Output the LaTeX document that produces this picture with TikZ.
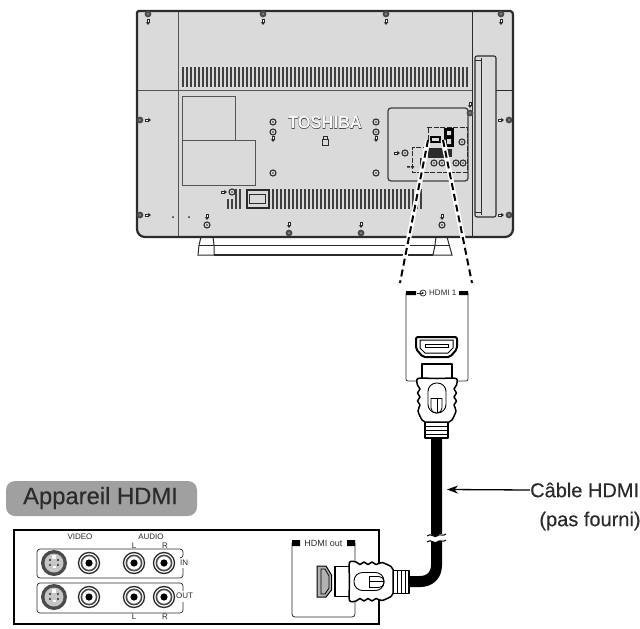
\documentclass[tikz,border=0pt]{standalone}
\usepackage{fontspec}
\setmainfont{Liberation Sans}
\newfontfamily\logofontout[FakeBold=3.2]{Liberation Sans Bold}
\newfontfamily\logofont{Liberation Sans Bold}
\newfontfamily\bigfont[FakeBold=0.25]{Liberation Sans}
\usetikzlibrary{arrows.meta}
\definecolor{tvgray}{HTML}{DADADA}
\definecolor{ink}{HTML}{2B2B2B}
\definecolor{labelgray}{HTML}{A0A0A0}
\tikzset{
  thinline/.style={draw=ink,line width=0.7pt},
  tvline/.style={draw=ink!80,line width=0.9pt},
  small/.style={font=\fontsize{8}{9}\selectfont,text=ink,inner sep=0pt},
  big/.style={font=\bigfont\fontsize{20}{24}\selectfont,text=ink,inner sep=0pt,align=center},
  plugline/.style={draw=black,line width=1.3pt,fill=white,line join=round},
}
\newcommand{\tvmark}[3]{% small arrow-like mark
  \begin{scope}[shift={(#1,#2)},rotate=#3]
    \draw[ink,line width=0.7pt,fill=white] (-1,-2.2) rectangle (1,0.6);
    \fill[ink] (-2.3,0.3) -- (2.3,0.3) -- (0,2.8) -- cycle;
  \end{scope}}
\newcommand{\tvscrew}[2]{%
  \fill[ink!85] (#1,#2) circle (3.4);
  \fill[gray] (#1,#2) circle (1.3);}
\newcommand{\tvring}[2]{%
  \draw[ink,line width=1.1pt,fill=tvgray] (#1,#2) circle (3);
  \fill[ink] (#1,#2) circle (0.9);}
\newcommand{\rcajack}[2]{%
  \draw[ink,line width=1.3pt,fill=white] (#1,#2) circle (10.5);
  \draw[ink!85,line width=1.6pt] (#1,#2) circle (7.6);
  \fill[black] (#1,#2) circle (3.6);}
\newcommand{\svideo}[2]{%
  \fill[ink!85] (#1,#2) circle (13);
  \fill[gray!45] (#1,#2) circle (9.5);
  \fill[ink] (#1,#2) ++(-4,-3) circle (1.2) ++(8,0) circle (1.2) ++(-8,5) circle (1.2) ++(8,0) circle (1.2);
  \fill[white] (#1,#2) ++(-2,-8) rectangle ++(4,4);
  \fill[white] (#1,#2) ++(-1.5,3) rectangle ++(3,2);}
\newcommand{\hdmiplug}{%
  % neck
  \draw[plugline,line width=1.6pt] (-15,0) rectangle (15,16);
  % strain relief
  \draw[plugline] (-12,58) rectangle (11,74);
  \foreach \yy in {62,66,70}{\draw[black,line width=0.8pt] (-12,\yy) -- (11,\yy);}
  % body
  \draw[plugline,line width=1.5pt] plot[smooth cycle,tension=0.45] coordinates {
    (-19,14.5) (0,14.5) (19,14.5) (19.5,21) (17,25) (19.5,29) (17,33) (19.5,37) (17,41) (19,47) (15,56) (12,58)
    (0,58) (-12,58) (-15,56) (-19,47) (-17,41) (-19.5,37) (-17,33) (-19.5,29) (-17,25) (-19.5,21)};
  % grip
  \draw[black,line width=0.9pt,fill=white,rounded corners=8.5pt] (-9,19) rectangle (9,49);
  \draw[black,line width=0.8pt,rounded corners=5pt] (-6,34) -- (-6,49) -- (5,49) -- (5,34);
  \draw[black,line width=0.8pt] (-6,34) -- (5,34);
  \draw[black,line width=0.8pt] (0,34) -- (0,49);
}
\begin{document}
\begin{tikzpicture}[x=1pt,y=-1pt]
\useasboundingbox (0,0) rectangle (640,629);
\fill[white] (0,0) rectangle (640,629);

%%% TV stand
\draw[ink,line width=1pt,fill=white] (201,237) -- (213,237) -- (214,245) -- (214,255) -- (198,255) -- (199,245) -- cycle;
\draw[ink,line width=1pt,fill=white] (436,237) -- (447,237) -- (452,255) -- (433,255) -- (435,245) -- cycle;
\draw[ink,line width=0.8pt] (214,245) -- (435,245);
\draw[ink,line width=1.5pt] (214,255) -- (433,255);
\draw[ink,line width=0.8pt] (199,245) -- (214,245);
\draw[ink,line width=0.8pt] (435,245) -- (449,245);

%%% TV body
\draw[ink,line width=2.2pt,fill=tvgray,rounded corners=1.5pt]
  (137,11) -- (512,11) -- (513,14) -- (513,229) [rounded corners=8pt] -- (513,237) -- (137,237) [rounded corners=1.5pt] -- cycle;
\draw[tvline] (178,12) -- (178,236);
\draw[ink,line width=0.7pt] (472,12) -- (472,236);
\draw[tvline] (138,90) -- (472,90);
\draw[ink,line width=0.6pt] (496,90) -- (512,90);

%%% vents
\foreach \vx in {182,186,...,466}{\fill[ink!90] (\vx,67) rectangle ++(2.1,20);}
\foreach \vx in {272,276,...,420}{\fill[ink!90] (\vx,189) rectangle ++(2.1,20);}
\foreach \vx in {227,231}{\fill[ink!90] (\vx,199) rectangle ++(2.1,10);}
\foreach \vx in {235,239}{\fill[ink!90] (\vx,189) rectangle ++(2.1,20);}
\draw[ink,line width=2pt] (247,190) rectangle (269,208);
\draw[ink,line width=0.8pt] (249,194) rectangle (265,203);

%%% rectangles
\draw[ink!80,line width=0.9pt] (182,96) rectangle (235,140);
\draw[ink!80,line width=0.9pt] (182,140.5) rectangle (255.5,185);

%%% right handle
\draw[ink,line width=1.1pt,rounded corners=2pt] (475,56) rectangle (496,217);
\draw[ink,line width=1pt] (481,58) -- (481,215);
\draw[ink,line width=0.8pt] (475,60) -- (481,60) (475,212) -- (481,212);

%%% connector panel
\draw[ink!90,line width=1.3pt,rounded corners=3pt] (388,108) rectangle (468,181);
\draw[ink,line width=0.7pt,dash pattern=on 5pt off 1.5pt] (427,127) -- (467,127) -- (467,172) -- (412,172) -- (412,147) -- (428,147) -- (428,127);
\fill[black] (430,136) rectangle (441,143);
\fill[tvgray] (432,138) rectangle (439,141);
\fill[black] (444,128) rectangle (454,147);
\fill[tvgray] (447,131) rectangle (451,135) (447,139) rectangle (451,144);
\tvring{462}{142}
\fill[ink] (428,148) rectangle (445,158);
\fill[ink] (447,149) rectangle (452,157);
\foreach \cx in {434,442,456,463}{\tvring{\cx}{163}}
\fill[ink] (420,158) rectangle (423,167);
\fill[ink] (407,166) rectangle (410,167.5) (411,166) rectangle (414,167.5);
\tvring{405}{153}
\tvmark{397}{153}{90}

%%% screws and marks
\foreach \sx in {148,263,386,501}{\tvscrew{\sx}{14}\tvmark{\sx}{22}{0}}
\foreach \sy in {120,215}{\tvscrew{140}{\sy}\tvmark{148}{\sy}{90}\tvscrew{509}{\sy}\tvmark{501}{\sy}{90}}
\foreach \sx in {289,361}{\tvscrew{\sx}{233}\tvmark{\sx}{225}{0}}
\foreach \sx in {273,376}{\tvring{\sx}{122}\tvring{\sx}{132}\tvmark{\sx}{139}{0}\tvring{\sx}{173}}
\tvring{207}{225}\tvmark{207}{217}{0}
\tvring{232}{192}\tvmark{224}{192}{90}
\tvring{442}{225}\tvmark{442}{217}{0}
\tvscrew{470}{113}\tvmark{470}{105}{0}
\fill[ink] (173,217) circle (1) (189,217) circle (1);

%%% logo
\node[inner sep=0pt,text=ink!85,font=\logofontout\fontsize{17.5}{18}\selectfont] (logoedge) at (325,122.5)
  {\scalebox{0.94}[1]{TOSHIBA}};
\node[inner sep=0pt,text=white!85!tvgray,font=\logofont\fontsize{17.5}{18}\selectfont] (logo) at (325,122.5)
  {\scalebox{0.94}[1]{TOSHIBA}};
\draw[ink,line width=0.9pt] (322,139.5) rectangle (328,145);
\draw[ink,line width=0.9pt] (323,139.5) -- (323,136.5) -- (327,136.5) -- (327,139.5);

%%% dashed zoom lines
\coordinate (zl1) at (428,140);
\coordinate (zl2) at (400,283);
\coordinate (zr1) at (443,140);
\coordinate (zr2) at (472,283);
\draw[white,line width=5pt] (zl1) -- (zl2);
\draw[white,line width=5pt] (zr1) -- (zr2);
\draw[black,line width=2pt,dash pattern=on 7pt off 4pt] (zl1) -- (zl2);
\draw[black,line width=2pt,dash pattern=on 7pt off 4pt] (zr1) -- (zr2);

%%% HDMI 1 panel
\draw[ink,line width=0.8pt,rounded corners=2pt] (406,293) -- (406,381) -- (468,381) -- (468,293);
\fill[black] (406,291) rectangle (416,295) (459,291) rectangle (468,295);
\node[small,anchor=west] (hdmione) at (429,293) {HDMI 1};
\draw[ink,line width=0.7pt] (423,293) circle (3);
\draw[ink,line width=0.7pt,-{Stealth[length=2.5pt,width=3pt]}] (417,293) -- (424,293);
\draw[black,line width=2pt,fill=white,rounded corners=2pt] (416,337) -- (457,337) -- (457,349) -- (450,357) -- (423,357) -- (416,349) -- cycle;
\draw[black,line width=1pt] (420,340) -- (453,340) -- (453,348) -- (448,353) -- (425,353) -- (420,348) -- cycle;
\draw[black,line width=0.9pt] (425,344) -- (448,344) -- (448,347) -- (425,347) -- cycle;

%%% cable
\coordinate (ca) at (436.5,430);
\coordinate (cb) at (405,581.5);
\draw[black,line width=11pt] (ca) -- (436.5,565) .. controls (436.5,575) and (430,581.5) .. (420,581.5) -- (cb);
\fill[white] (426,535) .. controls (431,531) and (435,539) .. (437,536) .. controls (440,532) and (443,536) .. (447,533)
  -- (447,540) .. controls (443,543) and (440,539) .. (437,542) .. controls (435,545) and (431,538) .. (426,542) -- cycle;
\draw[black,line width=1pt] (427,536) .. controls (431,532) and (435,539) .. (437,536) .. controls (440,533) and (443,537) .. (446,534);
\draw[black,line width=1pt] (427,542) .. controls (431,538) and (435,545) .. (437,542) .. controls (440,539) and (443,543) .. (446,540);

%%% upper plug
\begin{scope}[shift={(437,364)}]
\hdmiplug
\end{scope}

%%% cable label
\node[big,anchor=west] (cablelabel) at (530,490) {Câble HDMI};
\node[big] (notprovided) at (590,521) {(pas fourni)};
\coordinate (cabletip) at (447,489.5);
\draw[black,line width=1.3pt,-{Stealth[length=11pt,width=8pt]}] (cablelabel.west) -- (cabletip);

%%% device
\draw[fill=labelgray,draw=none,rounded corners=9pt] (6,481) rectangle (197,516);
\node[big,font=\bigfont\fontsize{23.8}{26}\selectfont,anchor=center] (devlabel) at (100.5,498) {Appareil HDMI};
\draw[black,line width=1.6pt] (14,530) rectangle (379,624);

\node[small] (video) at (80,537) {VIDEO};
\node[small] (audio) at (151,537) {AUDIO};
\node[small] (audl) at (134,546) {L};
\node[small] (audr) at (165,546) {R};
\node[small] (audl2) at (134,617) {L};
\node[small] (audr2) at (165,617) {R};
\draw[ink,line width=0.7pt,rounded corners=3pt] (180,558) -- (183,558) -- (183,549) -- (37,549) -- (37,578) -- (183,578) -- (183,568);
\draw[ink,line width=0.7pt,rounded corners=3pt] (183,591) -- (183,583) -- (37,583) -- (37,613) -- (183,613) -- (183,602);
\node[small,anchor=west] (inlab) at (180,563) {IN};
\node[small,anchor=west] (outlab) at (176,596) {OUT};
\foreach \yy in {563,597}{
  \svideo{54}{\yy}
  \rcajack{89}{\yy}
  \rcajack{134}{\yy}
  \rcajack{164}{\yy}
}

%%% HDMI out panel
\draw[ink,line width=0.8pt,rounded corners=3pt] (292,543) -- (292,617) -- (355,617) -- (355,543);
\fill[black] (292,540) rectangle (300,546) (347,540) rectangle (355,546);
\node[small,font=\fontsize{9}{10}\selectfont] (hdmiout) at (323.5,543) {HDMI out};
\draw[black,line width=1pt,fill=gray!60] (317,566) -- (326,566) -- (331.5,575) -- (331.5,590) -- (326,597) -- (317,597) -- cycle;
\draw[black,line width=0.8pt] (321,569) -- (325,569) -- (329,576) -- (329,588) -- (325,594) -- (321,594) -- cycle;

%%% lower plug
\begin{scope}[shift={(335,581.5)},rotate=90]
\hdmiplug
\end{scope}
\end{tikzpicture}
\end{document}
